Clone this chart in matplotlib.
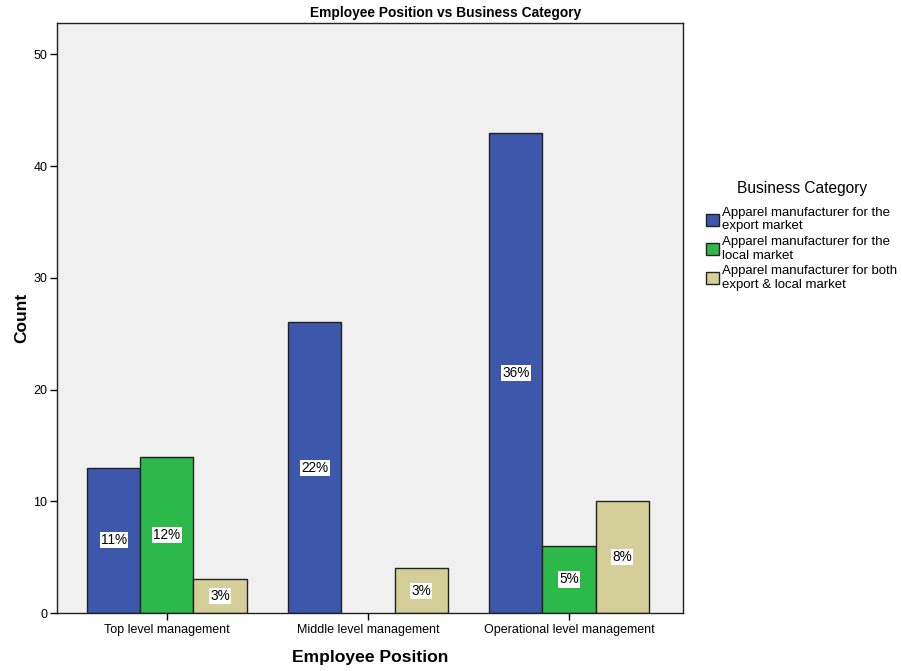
import matplotlib
matplotlib.use("Agg")
import matplotlib.pyplot as plt
from matplotlib.patches import Patch
import numpy as np

plt.rcParams['font.family'] = ['Liberation Sans', 'DejaVu Sans']

positions = ["Top level management", "Middle level management", "Operational level management"]
categories = [
    "Apparel manufacturer for the\nexport market",
    "Apparel manufacturer for the\nlocal market",
    "Apparel manufacturer for both\nexport & local market",
]
counts = {
    categories[0]: [13, 26, 43],
    categories[1]: [14, 0, 6],
    categories[2]: [3, 4, 10],
}
percents = {
    categories[0]: ["11%", "22%", "36%"],
    categories[1]: ["12%", None, "5%"],
    categories[2]: ["3%", "3%", "8%"],
}
colors = ["#3d57ab", "#2db84a", "#d4cf98"]

fig = plt.figure(figsize=(9.02, 6.71), dpi=100)
ax = fig.add_axes([57 / 902, 58 / 671, 626 / 902, 590 / 671])
ax.set_facecolor("#f0f0f0")

x = np.arange(len(positions))
width = 0.264
for i, cat in enumerate(categories):
    offs = (i - 1) * width
    vals = counts[cat]
    for xi, v, lab in zip(x, vals, percents[cat]):
        if v <= 0:
            continue
        ax.bar(xi + offs, v, width, color=colors[i], edgecolor="#222222", linewidth=1.0, zorder=2)
        if lab:
            ax.text(xi + offs, v / 2, lab, ha="center", va="center", fontsize=9.8,
                    bbox=dict(boxstyle="square,pad=0.08", facecolor="white", edgecolor="none"),
                    zorder=3)

ax.set_xlim(-0.547, 2.567)
ax.set_ylim(0, 52.8)
ax.set_yticks([0, 10, 20, 30, 40, 50])
ax.set_xticks(x)
ax.set_xticklabels(positions, fontsize=9)
ax.tick_params(axis="y", labelsize=9, length=5, width=1, pad=2)
ax.tick_params(axis="x", length=5, width=1, pad=3)
for s in ax.spines.values():
    s.set_linewidth(1.0)
    s.set_color("#222222")

fig.text(446 / 902, 1 - 13 / 671, "Employee Position vs Business Category",
         ha="center", va="center", fontsize=9.9, fontweight="bold")
ax.set_ylabel("Count", fontsize=12.5, fontweight="bold", labelpad=3)
ax.set_xlabel("Employee Position", fontsize=12.6, fontweight="bold", labelpad=10)

handles = [Patch(facecolor=c, edgecolor="#222222", linewidth=1.0) for c in colors]
leg = fig.legend(handles, categories, title="Business Category", loc="upper left",
                 bbox_to_anchor=(701 / 902, 1 - 176 / 671), frameon=False, fontsize=9.5,
                 title_fontsize=11.2, handlelength=0.95, handleheight=0.95, handletextpad=0.25,
                 labelspacing=0.3, borderaxespad=0)
leg._legend_box.sep = 8
for t in leg.get_texts():
    t.set_linespacing(1.12)

fig.savefig("out.png", dpi=100)
